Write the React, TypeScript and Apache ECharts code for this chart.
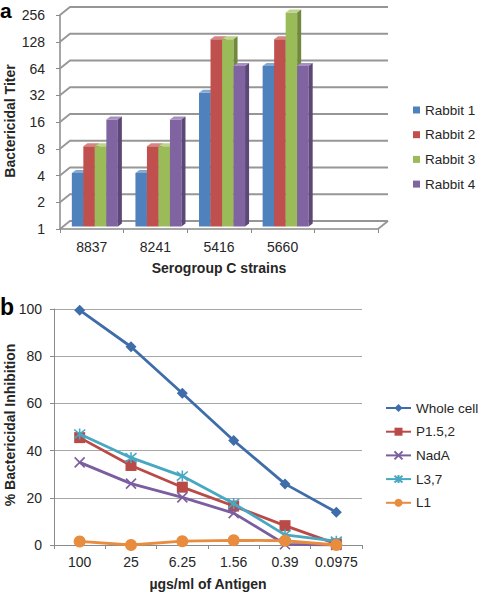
import React, { useEffect, useRef } from "react";
import * as echarts from "echarts";

// ---- Data: panel a ----
const strains = ["8837", "8241", "5416", "5660", ""];
const titerTicks = [1, 2, 4, 8, 16, 32, 64, 128, 256];
const rabbitNames = ["Rabbit 1", "Rabbit 2", "Rabbit 3", "Rabbit 4"];
const rabbit1 = [4, 4, 32, 64];
const rabbit2 = [8, 8, 128, 128];
const rabbit3 = [8, 8, 128, 256];
const rabbit4 = [16, 16, 64, 64];

// ---- Data: panel b ----
const doses = ["100", "25", "6.25", "1.56", "0.39", "0.0975"];
const lineNames = ["Whole cell", "P1.5,2", "NadA", "L3,7", "L1"];
const wholeCell = [99.5, 84, 64.3, 44.3, 25.9, 13.9];
const p152 = [45.5, 33.7, 24.5, 16.5, 8.2, 0.5];
const nadA = [35, 26, 20.2, 13.5, 0.3, 0];
const l37 = [47, 37, 29.2, 17.6, 4.3, 1.6];
const l1 = [1.5, 0, 1.6, 2, 1.8, 0];

// ---- Styles ----
const FONT = '"Liberation Sans", Arial, sans-serif';
const TXT = "#262626";
const AX = "#8a8a8a";
const DEPTH_X = 10;
const DEPTH_Y = 8;
const barFaces = [
  { front: "#4F81BD", top: "#86A8D3", side: "#385D8A" },
  { front: "#C0504D", top: "#D68583", side: "#8C3836" },
  { front: "#9BBB59", top: "#BDD38F", side: "#71893F" },
  { front: "#8064A2", top: "#A791C0", side: "#5C4776" },
];
const lineColors = ["#3E6DAA", "#BA4A47", "#7B5E9F", "#48A8C2", "#E88C3E"];
const lineSymbols = [
  "diamond",
  "rect",
  "path://M0,0L10,10M10,0L0,10",
  "path://M0,0L10,10M10,0L0,10M5,-1L5,11",
  "circle",
];
const symbolSizes = [11, 11, 10, 11, 12];

const rabbitSeries = [rabbit1, rabbit2, rabbit3, rabbit4];
const lineSeriesData = [wholeCell, p152, nadA, l37, l1];

export default function App() {
  const ref = useRef<HTMLDivElement>(null);

  useEffect(() => {
    if (!ref.current) return;
    const chart = echarts.init(ref.current, null, { renderer: "svg" });

    const frameSeries: any = {
      type: "custom",
      xAxisIndex: 0,
      yAxisIndex: 0,
      silent: true,
      z: 1,
      data: titerTicks.map((v) => [0, v]),
      renderItem: (params: any, api: any) => {
        const v = api.value(1);
        const p = api.coord([0, v]);
        const cw = api.size([1, 0], [0, 1])[0];
        const x0 = p[0] - cw / 2;
        const x1 = x0 + strains.length * cw;
        const y = p[1];
        const children: any[] = [
          {
            type: "polyline",
            shape: {
              points: [
                [x0, y],
                [x0 + DEPTH_X, y - DEPTH_Y],
                [x1 + DEPTH_X, y - DEPTH_Y],
              ],
            },
            style: { stroke: "#969696", lineWidth: 1.8, fill: null },
          },
        ];
        if (params.dataIndex === 0) {
          children.push({
            type: "line",
            shape: { x1: x1, y1: y, x2: x1 + DEPTH_X, y2: y - DEPTH_Y },
            style: { stroke: "#969696", lineWidth: 1.8 },
          });
        }
        return { type: "group", children };
      },
    };

    const barSeries: any[] = rabbitSeries.map((vals, ri) => ({
      type: "custom",
      name: rabbitNames[ri],
      xAxisIndex: 0,
      yAxisIndex: 0,
      z: 2,
      itemStyle: { color: barFaces[ri].front },
      encode: { x: 0, y: 1 },
      data: vals.map((v, i) => [i, v]),
      renderItem: (params: any, api: any) => {
        const ci = api.value(0);
        const v = api.value(1);
        const top = api.coord([ci, v]);
        const bot = api.coord([ci, 1]);
        const cw = api.size([1, 0], [0, 1])[0];
        const bw = cw * 0.181;
        const sx = top[0] - cw * 0.314 + ri * bw;
        const yT = top[1] - 2.5;
        const yB = bot[1] - 2.5;
        const dx = 4;
        const dy = -3;
        const f = barFaces[ri];
        return {
          type: "group",
          children: [
            {
              type: "rect",
              shape: { x: sx, y: yT, width: bw, height: yB - yT },
              style: { fill: f.front },
            },
            {
              type: "polygon",
              shape: {
                points: [
                  [sx, yT],
                  [sx + dx, yT + dy],
                  [sx + bw + dx, yT + dy],
                  [sx + bw, yT],
                ],
              },
              style: { fill: f.top },
            },
            {
              type: "polygon",
              shape: {
                points: [
                  [sx + bw, yT],
                  [sx + bw + dx, yT + dy],
                  [sx + bw + dx, yB + dy],
                  [sx + bw, yB],
                ],
              },
              style: { fill: f.side },
            },
          ],
        };
      },
    }));

    const lines: any[] = lineSeriesData.map((vals, i) => ({
      type: "line",
      name: lineNames[i],
      xAxisIndex: 1,
      yAxisIndex: 1,
      data: vals,
      symbol: lineSymbols[i],
      symbolSize: symbolSizes[i],
      showAllSymbol: true,
      lineStyle: { color: lineColors[i], width: 2.8 },
      itemStyle:
        i === 2 || i === 3
          ? { color: lineColors[i], borderColor: lineColors[i], borderWidth: 1.6 }
          : { color: lineColors[i] },
      z: 3 + i,
    }));

    const option: any = {
      animation: false,
      backgroundColor: "#ffffff",
      textStyle: { fontFamily: FONT },
      grid: [
        { left: 60, top: 15, width: 318, height: 214 },
        { left: 54, top: 309, width: 308, height: 236 },
      ],
      xAxis: [
        {
          type: "category",
          gridIndex: 0,
          data: strains,
          boundaryGap: true,
          axisLine: { show: true, lineStyle: { color: AX, width: 1.5 } },
          axisTick: { show: true, length: 4, interval: 0, lineStyle: { color: AX } },
          axisLabel: { interval: 0, fontSize: 14, color: TXT, margin: 11, fontFamily: FONT },
          splitLine: { show: false },
        },
        {
          type: "category",
          gridIndex: 1,
          data: doses,
          boundaryGap: true,
          axisLine: { show: true, lineStyle: { color: AX, width: 1 } },
          axisTick: { show: true, length: 4, interval: 0, lineStyle: { color: AX } },
          axisLabel: { interval: 0, fontSize: 14, color: TXT, margin: 10, fontFamily: FONT },
          splitLine: { show: false },
        },
      ],
      yAxis: [
        {
          type: "log",
          logBase: 2,
          gridIndex: 0,
          min: titerTicks[0],
          max: titerTicks[titerTicks.length - 1],
          axisLine: { show: true, lineStyle: { color: AX, width: 1.5 } },
          axisTick: { show: true, length: 4, lineStyle: { color: AX } },
          axisLabel: {
            fontSize: 14,
            color: TXT,
            margin: 15,
            fontFamily: FONT,
            formatter: (v: number) => String(Math.round(v)),
          },
          splitLine: { show: false },
        },
        {
          type: "value",
          gridIndex: 1,
          min: 0,
          max: 100,
          interval: 20,
          axisLine: { show: true, lineStyle: { color: AX, width: 1 } },
          axisTick: { show: true, length: 4, lineStyle: { color: AX } },
          axisLabel: { fontSize: 14, color: TXT, margin: 12, fontFamily: FONT },
          splitLine: { show: true, lineStyle: { color: "#a6a6a6", width: 1 } },
        },
      ],
      legend: [
        {
          data: rabbitNames,
          orient: "vertical",
          left: 408,
          top: 98,
          icon: "rect",
          itemWidth: 7,
          itemHeight: 7,
          itemGap: 10.7,
          selectedMode: false,
          textStyle: { fontSize: 13.5, color: TXT, lineHeight: 14, fontFamily: FONT },
        },
        {
          data: lineNames,
          orient: "vertical",
          left: 380,
          top: 396,
          itemWidth: 25,
          itemHeight: 10,
          itemGap: 9.7,
          selectedMode: false,
          textStyle: { fontSize: 13.5, color: TXT, lineHeight: 14, fontFamily: FONT },
        },
      ],
      graphic: [
        {
          type: "text",
          x: 0,
          y: 10.5,
          style: {
            text: "a",
            font: `bold 21px ${FONT}`,
            fill: "#000",
            align: "left",
            verticalAlign: "middle",
          },
        },
        {
          type: "text",
          x: 0,
          y: 307,
          style: {
            text: "b",
            font: `bold 23px ${FONT}`,
            fill: "#000",
            align: "left",
            verticalAlign: "middle",
          },
        },
        {
          type: "text",
          x: 10,
          y: 121,
          rotation: Math.PI / 2,
          style: {
            text: "Bactericidal Titer",
            font: `bold 14px ${FONT}`,
            fill: TXT,
            align: "center",
            verticalAlign: "middle",
          },
        },
        {
          type: "text",
          x: 219,
          y: 268,
          style: {
            text: "Serogroup C strains",
            font: `bold 14px ${FONT}`,
            fill: TXT,
            align: "center",
            verticalAlign: "middle",
          },
        },
        {
          type: "text",
          x: 10,
          y: 425,
          rotation: Math.PI / 2,
          style: {
            text: "% Bactericidal Inhibition",
            font: `bold 14px ${FONT}`,
            fill: TXT,
            align: "center",
            verticalAlign: "middle",
          },
        },
        {
          type: "text",
          x: 208,
          y: 584,
          style: {
            text: "µgs/ml of Antigen",
            font: `bold 14px ${FONT}`,
            fill: TXT,
            align: "center",
            verticalAlign: "middle",
          },
        },
      ],
      series: [frameSeries, ...barSeries, ...lines],
    };

    chart.setOption(option);
    return () => chart.dispose();
  }, []);

  return (
    <div
      ref={ref}
      style={{ position: "absolute", left: 0, top: 0, width: 480, height: 592, background: "#fff" }}
    />
  );
}
